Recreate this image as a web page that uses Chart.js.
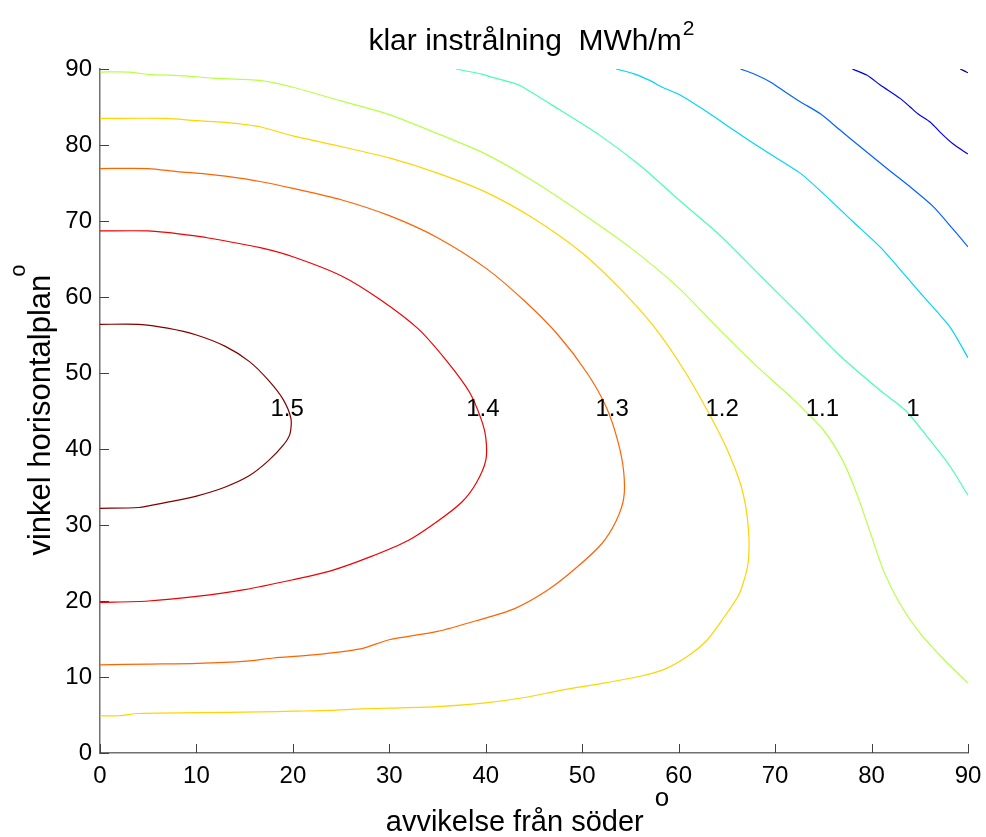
<!DOCTYPE html>
<html>
<head>
<meta charset="utf-8">
<script src="https://cdn.jsdelivr.net/npm/chart.js@4/dist/chart.umd.min.js"></script>
<style>
  html, body { margin: 0; padding: 0; background: #fff; }
  #wrap { width: 986px; height: 837px; }
</style>
</head>
<body>
<div id="wrap"><canvas id="c" width="986" height="837"></canvas></div>
<script>
// ---- data ----
const levelNames = ['1.5', '1.4', '1.3', '1.2', '1.1', '1', '0.9', '0.8', '0.7', '0.6'];

const c15x = [0, 4, 7, 10, 13, 15.5, 17.5, 19, 19.8, 19.7, 19, 17.5, 15.5, 13, 10, 7, 4, 0];
const c15y = [56.4, 56.4, 55.9, 55.0, 53.5, 51.5, 49, 46.5, 44, 42, 40.5, 38.5, 36.5, 35, 33.8, 33, 32.3, 32.2];

const c14x = [0, 5, 6.9, 8.8, 11.1, 16.6, 20, 25, 29, 33, 36, 38.3, 39.5, 40, 40, 39, 37.5, 35, 32, 28, 24, 20, 15, 10, 5, 0];
const c14y = [68.7, 68.7, 68.5, 68.2, 67.8, 66.5, 65.3, 62.8, 59.7, 55.8, 51.5, 47.5, 44, 41.5, 38.5, 35.5, 33, 30.5, 28, 25.8, 24, 22.8, 21.5, 20.6, 20, 19.8];

const c13x = [0, 5, 8, 10.9, 13, 16.6, 20, 25, 30, 35, 40, 44, 47.5, 50.5, 52.5, 53.7, 54.3, 54.3, 53.5, 52, 49.5, 46.5, 43, 39, 35, 30, 27, 22.1, 18, 15.2, 10.1, 5, 0];
const c13y = [76.9, 76.9, 76.5, 76.2, 75.9, 75.2, 74.3, 72.8, 70.7, 67.8, 63.8, 59.5, 55, 50, 45.5, 41, 37, 33.5, 30.5, 27.5, 24.5, 21.5, 19, 17.4, 16, 14.9, 13.7, 12.9, 12.5, 12.1, 11.8, 11.7, 11.6];

const c12x = [0, 6.9, 10, 12.8, 15, 16.6, 20, 25, 30, 35, 40, 45, 50, 54, 57.5, 60.5, 63, 65, 66.5, 67.2, 67.2, 66.3, 64.5, 62.9, 61, 58.5, 56, 51.8, 48, 44, 40, 35, 30, 27, 23.8, 20, 16.6, 10, 3.9, 2, 0];
const c12y = [83.5, 83.5, 83.2, 83, 82.7, 82.4, 81.2, 79.8, 78.3, 76.3, 73.8, 70.3, 65.8, 61, 56, 50.5, 45, 40, 35, 30, 25, 21, 17.5, 14.8, 12.8, 11, 10.1, 9.1, 8.3, 7.3, 6.6, 6.1, 5.9, 5.8, 5.6, 5.5, 5.4, 5.3, 5.2, 4.9, 4.9];

const c11x = [0, 3, 5, 8.8, 11.7, 16.6, 20, 25, 30, 35, 40, 45, 50, 55, 60, 64, 68, 72, 75, 77, 78.5, 80, 81.3, 83, 85, 87.5, 90];
const c11y = [89.6, 89.6, 89.3, 89.1, 88.8, 88.5, 87.6, 85.8, 84, 81.5, 78.8, 75.2, 71, 66.5, 61.2, 56, 51, 46.4, 42.5, 38.5, 34, 28.5, 23.8, 19.5, 15.8, 12.3, 9.2];

const c10x = [36.9, 39.7, 40.4, 42.7, 43.6, 47.7, 51.8, 56, 60.1, 64.3, 68.4, 72.6, 76.7, 80.9, 83.5, 86.1, 88.1, 90];
const c10y = [90, 89.3, 89, 88.2, 87.8, 84.6, 81.3, 77.3, 72.7, 68.1, 62.9, 57.6, 52.3, 47.7, 45.1, 41.1, 37.8, 33.9];

const c09x = [53.5, 55.3, 57, 58.3, 60.1, 63, 66, 69, 72.6, 75, 78, 81.1, 85, 88.1, 90];
const c09y = [90, 89.4, 88.5, 87.6, 86.6, 84.3, 81.7, 79.2, 76.3, 73.6, 70, 66.3, 60.6, 56.1, 52];

const c08x = [66.4, 67.7, 69.5, 70.8, 72.6, 74.7, 76.7, 78.8, 81.6, 84, 86.4, 88.4, 90];
const c08y = [90, 89.4, 88.3, 87.2, 85.7, 84.1, 82, 79.8, 76.9, 74.5, 71.9, 69, 66.6];

const c07x = [78, 79.5, 80.9, 83, 84, 84.8, 86.1, 87.1, 88.4, 90];
const c07y = [90, 89.2, 87.9, 86.1, 85, 84.1, 83, 81.7, 80.2, 78.8];

const c06x = [89.2, 90];
const c06y = [90, 89.5];

const labelText = ['1.5', '1.4', '1.3', '1.2', '1.1', '1'];
const labelX = [19.4, 39.7, 53.1, 64.5, 74.9, 84.3];
const labelY = [45.2, 45.2, 45.2, 45.2, 45.2, 45.2];

const xTicks = [0, 10, 20, 30, 40, 50, 60, 70, 80, 90];
const yTicks = [0, 10, 20, 30, 40, 50, 60, 70, 80, 90];

// ---- styles ----
const lineColors = ['#800000', '#f00000', '#ff6300', '#ffd400', '#b8ff47', '#47ffb8', '#00d4ff', '#0063ff', '#0000f0', '#00008f'];
const FONT = '"Liberation Sans", Arial, Helvetica, sans-serif';

const xs = [c15x, c14x, c13x, c12x, c11x, c10x, c09x, c08x, c07x, c06x];
const ys = [c15y, c14y, c13y, c12y, c11y, c10y, c09y, c08y, c07y, c06y];

const datasets = xs.map((xa, i) => ({
  label: levelNames[i],
  data: xa.map((x, j) => ({ x: x, y: ys[i][j] })),
  showLine: true,
  borderColor: lineColors[i],
  backgroundColor: lineColors[i],
  borderWidth: 1.2,
  pointRadius: 0,
  tension: 0.25,
  fill: false
}));

const decorPlugin = {
  id: 'decor',
  afterDraw(chart) {
    const ctx = chart.ctx;
    const xS = chart.scales.x, yS = chart.scales.y;
    const area = chart.chartArea;
    ctx.save();
    // inward tick marks
    ctx.strokeStyle = '#404040';
    ctx.lineWidth = 1;
    xTicks.forEach(v => {
      const px = Math.round(xS.getPixelForValue(v)) + 0.5;
      ctx.beginPath(); ctx.moveTo(px, area.bottom); ctx.lineTo(px, area.bottom - 9); ctx.stroke();
    });
    yTicks.forEach(v => {
      const py = Math.round(yS.getPixelForValue(v)) + 0.5;
      ctx.beginPath(); ctx.moveTo(area.left, py); ctx.lineTo(area.left + 9, py); ctx.stroke();
    });
    // contour labels
    ctx.fillStyle = '#000';
    ctx.font = '24px ' + FONT;
    ctx.textAlign = 'center';
    ctx.textBaseline = 'middle';
    labelText.forEach((t, i) => {
      ctx.fillText(t, xS.getPixelForValue(labelX[i]), yS.getPixelForValue(labelY[i]));
    });
    // title with superscript
    ctx.textBaseline = 'alphabetic';
    ctx.textAlign = 'left';
    const cx = (area.left + area.right) / 2;
    ctx.font = '30px ' + FONT;
    const tMain = 'klar instrålning  MWh/m';
    const wMain = ctx.measureText(tMain).width;
    ctx.font = '21px ' + FONT;
    const wSup = ctx.measureText('2').width;
    let x0 = cx - 3 - (wMain + wSup) / 2;
    ctx.font = '30px ' + FONT;
    ctx.fillText(tMain, x0, 50);
    ctx.font = '21px ' + FONT;
    ctx.fillText('2', x0 + wMain + 1, 35);
    // x axis title
    ctx.font = '29px ' + FONT;
    const xt = 'avvikelse från söder ';
    const wx = ctx.measureText(xt).width;
    ctx.font = '26px ' + FONT;
    const wo = ctx.measureText('o').width;
    let x1 = cx - 8 - (wx + wo) / 2;
    ctx.font = '29px ' + FONT;
    ctx.fillText(xt, x1, 831);
    ctx.font = '26px ' + FONT;
    ctx.fillText('o', x1 + wx + 3, 806);
    // y axis title (rotated)
    ctx.translate(50, (area.top + area.bottom) / 2);
    ctx.rotate(-Math.PI / 2);
    ctx.font = '31px ' + FONT;
    const yt = 'vinkel horisontalplan';
    const wy = ctx.measureText(yt).width;
    ctx.font = '22px ' + FONT;
    const wo2 = ctx.measureText('o').width;
    const y0 = -(wy + wo2) / 2 + 2;
    ctx.font = '31px ' + FONT;
    ctx.fillText(yt, y0, 0);
    ctx.font = '22px ' + FONT;
    ctx.fillText('o', y0 + wy - 2, -25);
    ctx.restore();
  }
};

new Chart(document.getElementById('c'), {
  type: 'scatter',
  data: { datasets: datasets },
  options: {
    responsive: false,
    animation: false,
    devicePixelRatio: 1,
    layout: { padding: { top: 69, right: 18, left: 0, bottom: 0 } },
    plugins: { legend: { display: false }, tooltip: { enabled: false }, title: { display: false } },
    scales: {
      x: {
        type: 'linear', min: 0, max: 90,
        afterFit(s) { s.height = 84; s.paddingRight = 0; s.paddingLeft = 0; },
        afterBuildTicks(s) { s.ticks = xTicks.map(v => ({ value: v })); },
        grid: { display: false, drawTicks: false },
        border: { display: true, color: '#707070', width: 1.5 },
        ticks: { color: '#000', font: { family: FONT, size: 24 }, padding: 9, maxRotation: 0 }
      },
      y: {
        type: 'linear', min: 0, max: 90,
        afterFit(s) { s.width = 100; s.paddingTop = 0; s.paddingBottom = 0; },
        afterBuildTicks(s) { s.ticks = yTicks.map(v => ({ value: v })); },
        grid: { display: false, drawTicks: false },
        border: { display: true, color: '#707070', width: 1.5 },
        ticks: { color: '#000', font: { family: FONT, size: 24 }, padding: 8 }
      }
    }
  },
  plugins: [decorPlugin]
});
</script>
</body>
</html>
